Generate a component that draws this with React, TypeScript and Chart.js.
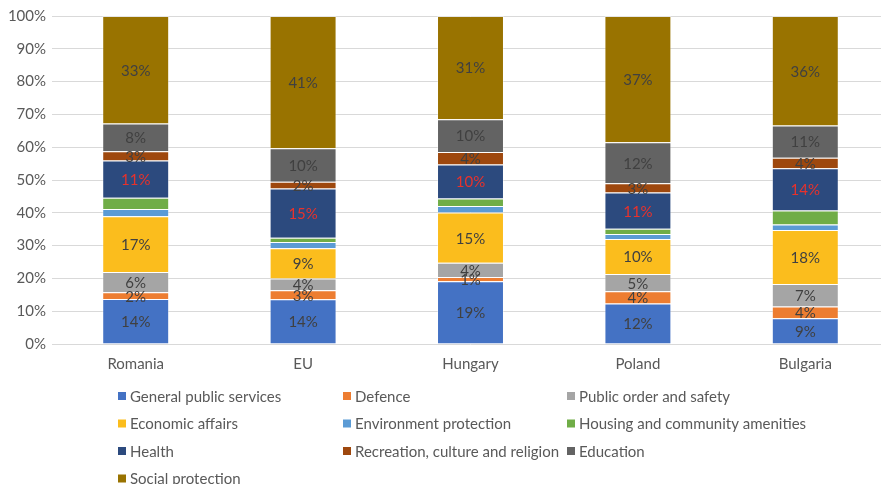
import React, { useEffect, useRef } from "react";
import { Chart, registerables } from "chart.js";

Chart.register(...registerables);

const countries = ["Romania", "EU", "Hungary", "Poland", "Bulgaria"];

const generalPublicServices = [13.6, 13.7, 19.1, 11.9, 8.5];
const defence = [2.1, 2.8, 1.3, 3.6, 3.8];
const publicOrderAndSafety = [6.1, 3.6, 4.3, 5.1, 7.4];
const economicAffairs = [16.9, 9.3, 15.3, 10.3, 17.8];
const environmentProtection = [2.2, 1.9, 2.0, 1.45, 1.8];
const housingAndCommunity = [3.4, 1.3, 2.3, 1.55, 4.6];
const health = [11.3, 15.1, 10.3, 10.7, 13.9];
const recreationCultureReligion = [2.8, 2.1, 3.8, 2.7, 3.5];
const education = [8.4, 10.2, 10.0, 12.1, 10.6];
const socialProtection = [32.6, 40.6, 31.4, 37.15, 36.0];

const yTicks = [0, 10, 20, 30, 40, 50, 60, 70, 80, 90, 100];

const series = [
  { name: "General public services", values: generalPublicServices, color: "#4472C4", label: true, labelColor: "#404040" },
  { name: "Defence", values: defence, color: "#ED7D31", label: true, labelColor: "#404040" },
  { name: "Public order and safety", values: publicOrderAndSafety, color: "#A5A5A5", label: true, labelColor: "#404040" },
  { name: "Economic affairs", values: economicAffairs, color: "#FBBD1D", label: true, labelColor: "#404040" },
  { name: "Environment protection", values: environmentProtection, color: "#5B9BD5", label: false, labelColor: "#404040" },
  { name: "Housing and community amenities", values: housingAndCommunity, color: "#70AD47", label: false, labelColor: "#404040" },
  { name: "Health", values: health, color: "#2C4A7E", label: true, labelColor: "#E8322C" },
  { name: "Recreation, culture and religion", values: recreationCultureReligion, color: "#9E480E", label: true, labelColor: "#404040" },
  { name: "Education", values: education, color: "#636363", label: true, labelColor: "#404040" },
  { name: "Social protection", values: socialProtection, color: "#997300", label: true, labelColor: "#404040" },
];

const FONT = "Lato, 'Noto Sans', sans-serif";

export default function App() {
  const ref = useRef<HTMLCanvasElement | null>(null);

  useEffect(() => {
    document.body.style.margin = "0";
    const canvas = ref.current;
    if (!canvas) return;

    const totals = countries.map((_, i) =>
      series.reduce((s, d) => s + d.values[i], 0)
    );

    const labelPlugin = {
      id: "segLabels",
      afterDatasetsDraw(chart: any) {
        const ctx = chart.ctx;
        ctx.save();
        ctx.font = `15px ${FONT}`;
        ctx.textAlign = "center";
        ctx.textBaseline = "middle";
        chart.data.datasets.forEach((ds: any, di: number) => {
          const s = series[di];
          if (!s.label) return;
          const meta = chart.getDatasetMeta(di);
          meta.data.forEach((el: any, i: number) => {
            const y = (el.y + el.base) / 2;
            ctx.fillStyle = s.labelColor;
            ctx.fillText(Math.round(s.values[i]) + "%", el.x, y + 1);
          });
        });
        ctx.restore();
      },
    };

    const legendPlugin = {
      id: "gridLegend",
      afterDraw(chart: any) {
        const ctx = chart.ctx;
        const colX = [118, 343, 567];
        const rowY = [396, 423.5, 451, 478.5];
        ctx.save();
        ctx.font = `15px ${FONT}`;
        ctx.textAlign = "left";
        ctx.textBaseline = "middle";
        series.forEach((s, i) => {
          const x = colX[i % 3];
          const y = rowY[Math.floor(i / 3)];
          ctx.fillStyle = s.color;
          ctx.fillRect(x, y - 4, 8, 8);
          ctx.fillStyle = "#595959";
          ctx.fillText(s.name, x + 12, y + 1);
        });
        ctx.restore();
      },
    };

    const chart = new Chart(canvas, {
      type: "bar",
      data: {
        labels: countries,
        datasets: series.map((s) => ({
          label: s.name,
          data: s.values.map((v, i) => (v / totals[i]) * 100),
          backgroundColor: s.color,
          borderColor: "rgba(255,255,255,0.35)",
          borderWidth: 1,
          categoryPercentage: 1,
          barPercentage: 0.4,
        })),
      },
      options: {
        responsive: false,
        animation: false,
        devicePixelRatio: 1,
        layout: { padding: { left: 0, right: 0, top: 16, bottom: 110 } },
        plugins: {
          legend: { display: false },
          tooltip: { enabled: false },
        },
        scales: {
          x: {
            stacked: true,
            grid: { display: false },
            border: { display: false },
            ticks: { color: "#595959", font: { family: FONT, size: 15 }, padding: 3 },
            afterFit: (s: any) => { s.height = 30; },
          },
          y: {
            stacked: true,
            min: 0,
            max: 100,
            afterBuildTicks: (s: any) => { s.ticks = yTicks.map((v) => ({ value: v })); },
            grid: { color: "#D9D9D9", drawTicks: false, lineWidth: 1 },
            border: { display: false },
            ticks: {
              color: "#595959",
              font: { family: FONT, size: 15 },
              padding: 6,
              callback: (v: any) => v + "%",
            },
            afterFit: (s: any) => { s.width = 52; },
          },
        },
      },
      plugins: [labelPlugin, legendPlugin],
    });

    return () => chart.destroy();
  }, []);

  return (
    <div style={{ position: "absolute", left: 0, top: 0, width: 881, height: 484, overflow: "hidden", background: "#fff" }}>
      <canvas ref={ref} width={889} height={484} style={{ width: 889, height: 484, display: "block" }} />
    </div>
  );
}
